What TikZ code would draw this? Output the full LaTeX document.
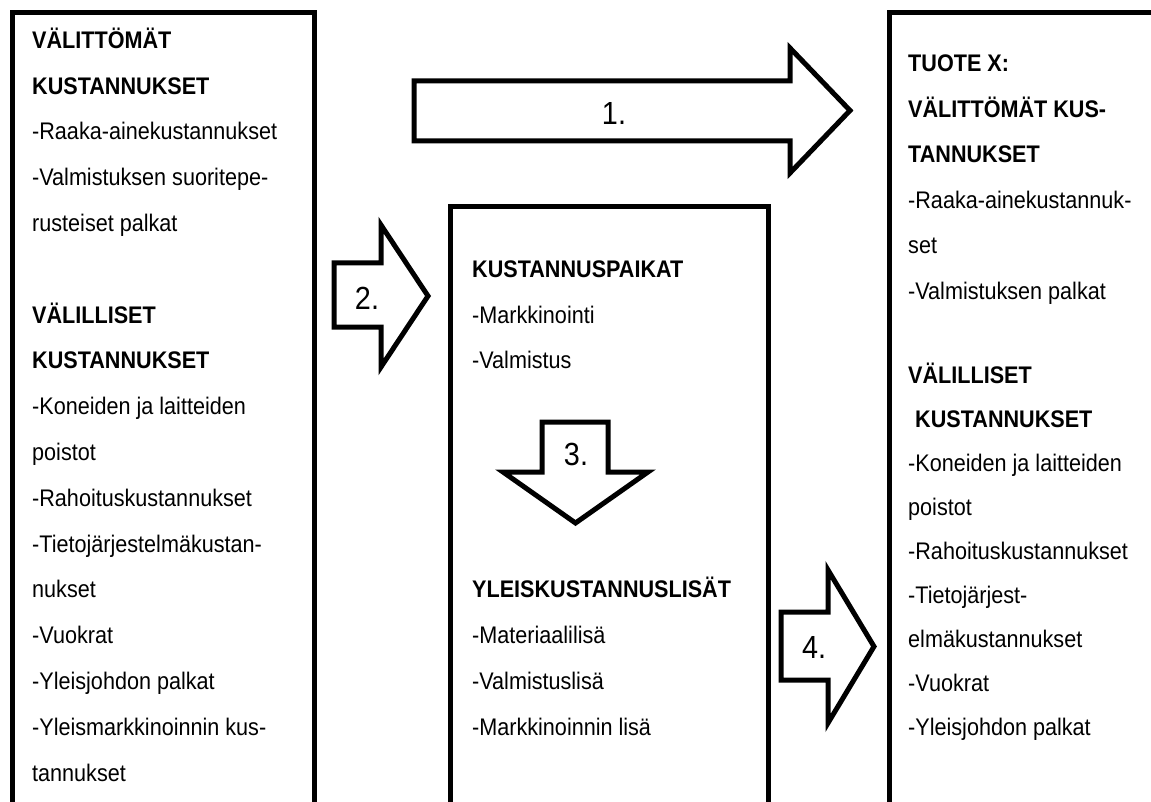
\documentclass[tikz,border=0pt]{standalone}
\usepackage{fontspec}
\setmainfont{Liberation Sans}[FakeStretch=0.9]
\begin{document}
\begin{tikzpicture}[x=1pt,y=-1pt,
  frame/.style={draw=black,line width=5pt,rectangle,inner sep=0pt,anchor=north west},
  blockarrow/.style={draw=black,line width=5pt,line join=miter,fill=white},
  txt/.style={anchor=base west,inner sep=0pt,font=\fontsize{24}{28}\selectfont},
  hd/.style={anchor=base west,inner sep=0pt,font=\fontsize{24}{28}\selectfont\bfseries},
  num/.style={anchor=center,inner sep=0pt,font=\fontsize{32}{36}\selectfont}]
\clip (0,0) rectangle (1151,802);
\fill[white] (0,0) rectangle (1151,802);
% boxes
\node[frame,minimum width=302pt,minimum height=900pt] (leftbox) at (10,10) {};
\node[frame,minimum width=318pt,minimum height=700pt] (midbox) at (448,204) {};
\node[frame,minimum width=400pt,minimum height=900pt] (rightbox) at (887,10) {};
% block arrows
\draw[blockarrow] (414,81) -- (790,81) -- (790,48) -- (850,110.5) -- (790,173) -- (790,141) -- (414,141) -- cycle;
\draw[blockarrow] (334,263) -- (381,263) -- (381,225) -- (428,296) -- (381,367) -- (381,327) -- (334,327) -- cycle;
\draw[blockarrow] (542,422) -- (608,422) -- (608,472) -- (648,472) -- (575.5,523) -- (503,472) -- (542,472) -- cycle;
\draw[blockarrow] (781,612) -- (828,612) -- (828,570) -- (874,646.5) -- (828,723) -- (828,680) -- (781,680) -- cycle;
\node[num] (n1) at (614,113) {1.};
\node[num] (n2) at (367,298) {2.};
\node[num] (n3) at (576,454) {3.};
\node[num] (n4) at (814,647) {4.};
% left box text
\def\lg#1{48.3+45.8*#1}
\node[hd]  (l0)  at (32,{\lg{0}})  {VÄLITTÖMÄT};
\node[hd]  (l1)  at (32,{\lg{1}})  {KUSTANNUKSET};
\node[txt] (l2)  at (32,{\lg{2}})  {-Raaka-ainekustannukset};
\node[txt] (l3)  at (32,{\lg{3}})  {-Valmistuksen suoritepe-};
\node[txt] (l4)  at (32,{\lg{4}})  {rusteiset palkat};
\node[hd]  (l6)  at (32,{\lg{6}})  {VÄLILLISET};
\node[hd]  (l7)  at (32,{\lg{7}})  {KUSTANNUKSET};
\node[txt] (l8)  at (32,{\lg{8}})  {-Koneiden ja laitteiden};
\node[txt] (l9)  at (32,{\lg{9}})  {poistot};
\node[txt] (l10) at (32,{\lg{10}}) {-Rahoituskustannukset};
\node[txt] (l11) at (32,{\lg{11}}) {-Tietojärjestelmäkustan-};
\node[txt] (l12) at (32,{\lg{12}}) {nukset};
\node[txt] (l13) at (32,{\lg{13}}) {-Vuokrat};
\node[txt] (l14) at (32,{\lg{14}}) {-Yleisjohdon palkat};
\node[txt] (l15) at (32,{\lg{15}}) {-Yleismarkkinoinnin kus-};
\node[txt] (l16) at (32,{\lg{16}}) {tannukset};
% middle box text
\node[hd]  (m5)  at (472,{\lg{5}})  {KUSTANNUSPAIKAT};
\node[txt] (m6)  at (472,{\lg{6}})  {-Markkinointi};
\node[txt] (m7)  at (472,{\lg{7}})  {-Valmistus};
\node[hd]  (m12) at (472,{\lg{12}}) {YLEISKUSTANNUSLISÄT};
\node[txt] (m13) at (472,{\lg{13}}) {-Materiaalilisä};
\node[txt] (m14) at (472,{\lg{14}}) {-Valmistuslisä};
\node[txt] (m15) at (472,{\lg{15}}) {-Markkinoinnin lisä};
% right box text
\node[hd]  (r0)  at (908,72)    {TUOTE X:};
\node[hd]  (r1)  at (908,117.5) {VÄLITTÖMÄT KUS-};
\node[hd]  (r2)  at (908,163)   {TANNUKSET};
\node[txt] (r3)  at (908,208.5) {-Raaka-ainekustannuk-};
\node[txt] (r4)  at (908,254)   {set};
\node[txt] (r5)  at (908,299.5) {-Valmistuksen palkat};
\node[hd]  (r6)  at (908,383)   {VÄLILLISET};
\node[hd]  (r7)  at (915,427)   {KUSTANNUKSET};
\node[txt] (r8)  at (908,471)   {-Koneiden ja laitteiden};
\node[txt] (r9)  at (908,515)   {poistot};
\node[txt] (r10) at (908,559)   {-Rahoituskustannukset};
\node[txt] (r11) at (908,603)   {-Tietojärjest-};
\node[txt] (r12) at (908,647)   {elmäkustannukset};
\node[txt] (r13) at (908,691)   {-Vuokrat};
\node[txt] (r14) at (908,735)   {-Yleisjohdon palkat};
\end{tikzpicture}
\end{document}
